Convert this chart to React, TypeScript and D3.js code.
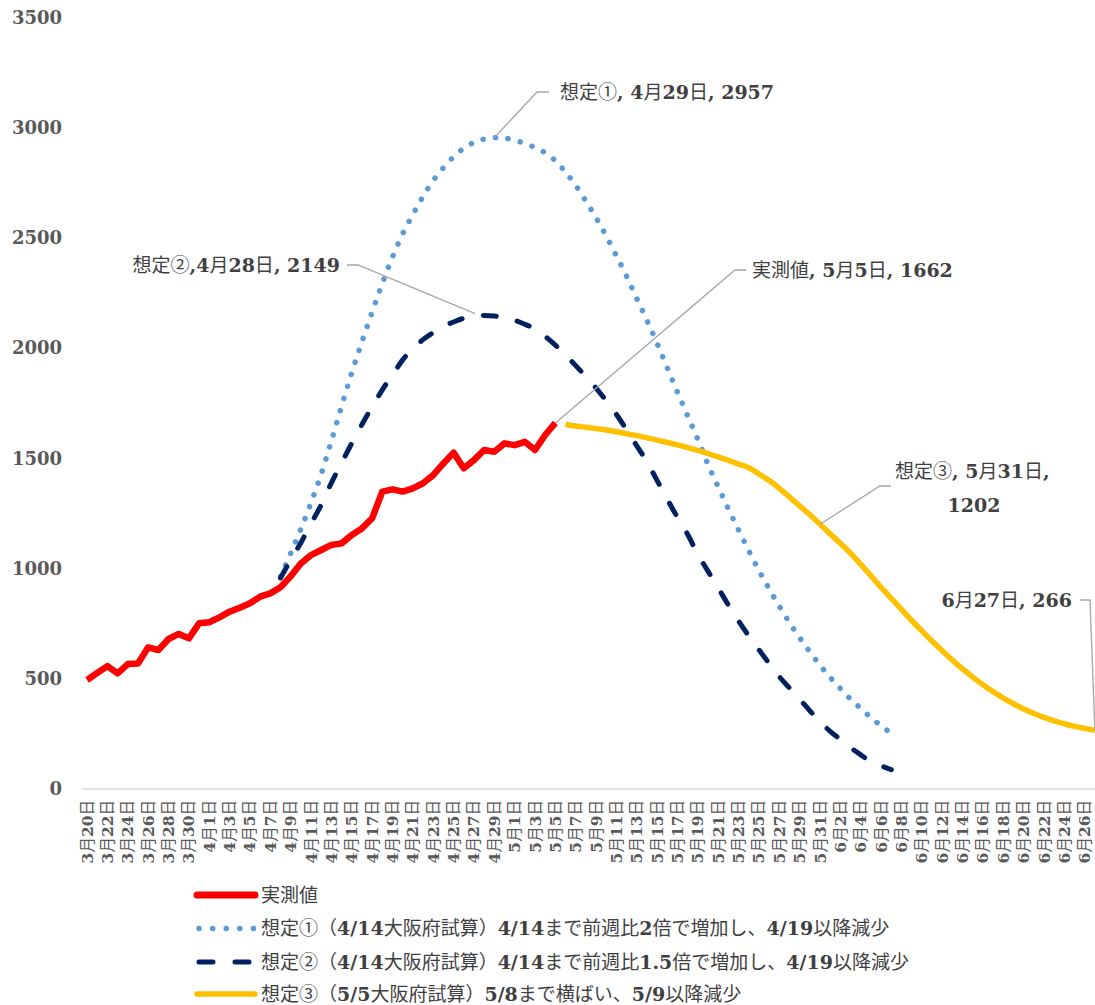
import React from 'react';
import * as d3 from 'd3';

const W = 1095;
const H = 1005;

const START = new Date(2020, 2, 20);
const END = new Date(2020, 5, 28);
const dates = d3.timeDay.range(START, END);
const categories = dates.map((d) => `${d.getMonth() + 1}月${d.getDate()}日`);

const yTicks = [0, 500, 1000, 1500, 2000, 2500, 3000, 3500];

// 実測値 (3/20 - 5/5)
const actualStart = 0;
const actual = [
  495, 527, 558, 525, 567, 570, 643, 631, 681, 704, 684, 752, 757, 779, 805, 823, 843, 873, 888, 916,
  966, 1024, 1062, 1085, 1108, 1115, 1153, 1183, 1229, 1350, 1360, 1350, 1365, 1388, 1425, 1478, 1527,
  1456, 1493, 1539, 1531, 1569, 1561, 1576, 1539, 1607, 1662,
];

// 想定① (4/8 - 6/7)
const scenario1Start = 19;
const scenario1 = [
  965, 1070, 1180, 1300, 1430, 1580, 1738, 1890, 2030, 2165, 2295, 2415, 2520, 2608, 2690, 2762, 2820,
  2870, 2908, 2935, 2950, 2957, 2955, 2945, 2930, 2912, 2888, 2852, 2800, 2740, 2668, 2593, 2510, 2420,
  2327, 2226, 2127, 2022, 1911, 1801, 1693, 1587, 1472, 1371, 1271, 1175, 1082, 991, 909, 830, 755, 687,
  622, 562, 506, 456, 408, 366, 324, 287, 252,
];

// 想定② (4/8 - 6/7)
const scenario2Start = 19;
const scenario2 = [
  958, 1040, 1118, 1205, 1290, 1390, 1480, 1570, 1655, 1735, 1812, 1880, 1948, 2000, 2040, 2072, 2100,
  2120, 2137, 2146, 2149, 2147, 2140, 2128, 2110, 2088, 2055, 2015, 1970, 1922, 1872, 1820, 1762, 1700,
  1630, 1558, 1485, 1400, 1315, 1232, 1155, 1065, 988, 912, 835, 762, 695, 632, 570, 510, 458, 408, 355,
  305, 262, 225, 188, 155, 125, 105, 88,
];

// 想定③ (5/6 - 6/27)
const scenario3Start = 47;
const scenario3 = [
  1655, 1648, 1642, 1636, 1630, 1622, 1613, 1604, 1594, 1584, 1573, 1562, 1550, 1537, 1523, 1508, 1492,
  1475, 1458, 1430, 1400, 1365, 1325, 1285, 1245, 1202, 1158, 1115, 1070, 1020, 968, 915, 865, 815, 765,
  718, 672, 628, 585, 545, 508, 473, 442, 413, 387, 363, 343, 325, 309, 296, 284, 275, 266,
];

const legendLabels = [
  '実測値',
  '想定①（4/14大阪府試算）4/14まで前週比2倍で増加し、4/19以降減少',
  '想定②（4/14大阪府試算）4/14まで前週比1.5倍で増加し、4/19以降減少',
  '想定③（5/5大阪府試算）5/8まで横ばい、5/9以降減少',
];

const LATIN = "'DejaVu Serif', 'Liberation Serif', serif";
const CJK = "'Noto Sans CJK JP', 'Noto Sans', sans-serif";
const LATIN_RE = /^[0-9A-Za-z.,/ ]+$/;

function Mixed(props: {
  text: string;
  x?: number;
  y?: number;
  size: number;
  fill: string;
  anchor?: string;
  transform?: string;
}) {
  const { text, x, y, size, fill, anchor, transform } = props;
  const runs = text.match(/[0-9A-Za-z.,/ ]+|[^0-9A-Za-z.,/ ]+/g) || [];
  return (
    <text
      x={x}
      y={y}
      fontSize={size}
      fill={fill}
      textAnchor={anchor || 'start'}
      transform={transform}
      style={{ whiteSpace: 'pre' }}
    >
      {runs.map((r, i) =>
        LATIN_RE.test(r) ? (
          <tspan key={i} fontFamily={LATIN} fontWeight="bold">
            {r}
          </tspan>
        ) : (
          <tspan key={i} fontFamily={CJK}>
            {r}
          </tspan>
        )
      )}
    </text>
  );
}

export default function App() {
  const x = d3.scaleBand<string>().domain(categories).range([82, 82 + categories.length * 10.18]).padding(0);
  const y = d3.scaleLinear().domain([0, 3500]).range([789, 18]);
  const cx = (i: number) => (x(categories[i]) as number) + x.bandwidth() / 2;

  const mk = (vals: number[], start: number, curve: d3.CurveFactory) =>
    d3
      .line<number>()
      .x((_, i) => cx(start + i))
      .y((v) => y(v))
      .curve(curve)(vals) as string;

  const actualPath = mk(actual, actualStart, d3.curveLinear);
  const s1Path = mk(scenario1, scenario1Start, d3.curveMonotoneX);
  const s2Path = mk(scenario2, scenario2Start, d3.curveMonotoneX);
  const s3Path = mk(scenario3, scenario3Start, d3.curveMonotoneX);

  const leader = '#a6a6a6';
  const textCol = '#404040';

  const p1 = [cx(40), y(2957)];
  const p2 = [cx(39), y(2149)];
  const p3 = [cx(46), y(1662)];
  const p4 = [cx(72), y(1202)];
  const p5 = [cx(99), y(266)];

  const legendY = [895, 928.5, 962, 994];

  return (
    <svg width={W} height={H} style={{ position: 'absolute', left: 0, top: 0, background: '#fff' }}>
      <rect x={0} y={0} width={W} height={H} fill="#fff" />
      {/* y labels */}
      {yTicks.map((t) => (
        <Mixed key={t} text={String(t)} x={62} y={y(t) + 6} size={18} fill="#595959" anchor="end" />
      ))}
      {/* x axis line */}
      <line x1={82} x2={W} y1={789} y2={789} stroke="#d9d9d9" strokeWidth={1.5} />
      {/* x tick labels */}
      {categories.map((c, i) =>
        i % 2 === 0 ? (
          <Mixed
            key={c}
            text={c}
            size={15.5}
            fill="#595959"
            anchor="end"
            transform={`translate(${cx(i) + 5.5},800) rotate(-90)`}
          />
        ) : null
      )}
      {/* lines */}
      <path d={s1Path} fill="none" stroke="#5B9BD5" strokeWidth={5.5} strokeDasharray="0.1 12.5" strokeLinecap="round" />
      <path d={s2Path} fill="none" stroke="#002060" strokeWidth={5} strokeDasharray="13 21.5" strokeLinecap="round" />
      <path d={s3Path} fill="none" stroke="#FFC000" strokeWidth={5.5} strokeLinejoin="round" />
      <path d={actualPath} fill="none" stroke="#FF0000" strokeWidth={6.5} strokeLinejoin="round" />

      {/* annotations */}
      <polyline points={`${p1[0]},${p1[1]} 537,92 549,92`} fill="none" stroke={leader} strokeWidth={1.3} />
      <Mixed text="想定①, 4月29日, 2957" x={560} y={99} size={19} fill={textCol} />

      <polyline points={`347,265 358,265 ${p2[0] - 9},${p2[1] - 2}`} fill="none" stroke={leader} strokeWidth={1.3} />
      <Mixed text="想定②,4月28日, 2149" x={340} y={272} size={19} fill={textCol} anchor="end" />

      <polyline points={`${p3[0]},${p3[1]} 735,270 746,270`} fill="none" stroke={leader} strokeWidth={1.3} />
      <Mixed text="実測値, 5月5日, 1662" x={752} y={277} size={19} fill={textCol} />

      <polyline points={`${p4[0]},${p4[1]} 880,486 891,486`} fill="none" stroke={leader} strokeWidth={1.3} />
      <Mixed text="想定③, 5月31日," x={895} y={478} size={19} fill={textCol} />
      <Mixed text="1202" x={974} y={512} size={19} fill={textCol} anchor="middle" />

      <polyline points={`1080,600 1090,600 ${p5[0]},${p5[1]}`} fill="none" stroke={leader} strokeWidth={1.3} />
      <Mixed text="6月27日, 266" x={1072} y={607} size={19} fill={textCol} anchor="end" />

      {/* legend */}
      <line x1={197} x2={255} y1={legendY[0]} y2={legendY[0]} stroke="#FF0000" strokeWidth={7} strokeLinecap="round" />
      <line x1={199} x2={255} y1={legendY[1]} y2={legendY[1]} stroke="#5B9BD5" strokeWidth={5.5} strokeDasharray="0.1 13.5" strokeLinecap="round" />
      <line x1={199} x2={255} y1={legendY[2]} y2={legendY[2]} stroke="#002060" strokeWidth={5} strokeDasharray="14 22" strokeLinecap="round" />
      <line x1={197} x2={255} y1={legendY[3]} y2={legendY[3]} stroke="#FFC000" strokeWidth={5.5} strokeLinecap="round" />
      {legendLabels.map((l, i) => (
        <Mixed key={l} text={l} x={261} y={legendY[i] + 6.5} size={19} fill={textCol} />
      ))}
    </svg>
  );
}
